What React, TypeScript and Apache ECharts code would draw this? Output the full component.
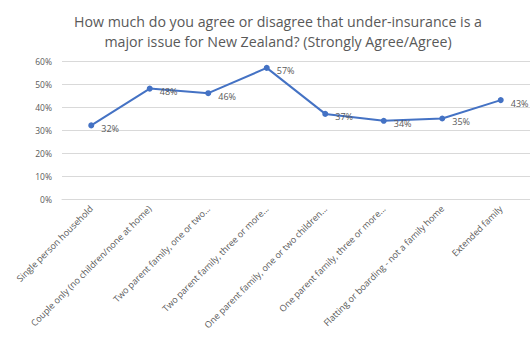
import React, { useEffect, useRef } from "react";
import * as echarts from "echarts";

const titleLines = [
  "How much do you agree or disagree that under-insurance is a",
  "major issue for New Zealand? (Strongly Agree/Agree)",
];
const categories = [
  "Single person household",
  "Couple only (no children/none at home)",
  "Two parent family, one or two...",
  "Two parent family, three or more...",
  "One parent family, one or two children...",
  "One parent family, three or more...",
  "Flatting or boarding - not a family home",
  "Extended family",
];
const values = [32, 48, 46, 57, 37, 34, 35, 43];
const yTicks = [0, 10, 20, 30, 40, 50, 60];

export default function App() {
  const ref = useRef<HTMLDivElement>(null);
  useEffect(() => {
    if (!ref.current) return;
    const chart = echarts.init(ref.current, null, { renderer: "svg" });
    chart.setOption({
      animation: false,
      backgroundColor: "#ffffff",
      title: {
        text: titleLines.join("\n"),
        left: 273,
        textAlign: "center",
        top: 6,
        textStyle: {
          fontFamily: "Open Sans",
          fontSize: 14.2,
          fontWeight: "normal",
          color: "#595959",
          lineHeight: 20,
        },
      },
      grid: { left: 62, top: 61, width: 476, height: 138, containLabel: false },
      xAxis: {
        type: "category",
        data: categories,
        boundaryGap: true,
        axisLine: { show: true, lineStyle: { color: "#d9d9d9" } },
        axisTick: { show: false },
        axisLabel: {
          rotate: 45,
          interval: 0,
          margin: 8,
          fontSize: 9,
          color: "#595959",
          fontFamily: "Open Sans",
        },
      },
      yAxis: {
        type: "value",
        min: yTicks[0],
        max: yTicks[yTicks.length - 1],
        interval: 10,
        axisLine: { show: false },
        axisTick: { show: false },
        splitLine: { lineStyle: { color: "#d9d9d9" } },
        axisLabel: {
          formatter: "{value}%",
          fontSize: 8.5,
          color: "#595959",
          margin: 10,
          fontFamily: "Open Sans",
        },
      },
      series: [
        {
          type: "line",
          data: values,
          symbol: "circle",
          symbolSize: 6,
          lineStyle: { color: "#4472C4", width: 2 },
          itemStyle: { color: "#4472C4" },
          label: {
            show: true,
            position: "right",
            offset: [2, 3],
            formatter: "{c}%",
            fontSize: 9,
            color: "#595959",
            fontFamily: "Open Sans",
          },
        },
      ],
    });
    return () => chart.dispose();
  }, []);
  return (
    <div
      ref={ref}
      style={{ position: "fixed", left: 0, top: 0, width: 530, height: 341 }}
    />
  );
}
